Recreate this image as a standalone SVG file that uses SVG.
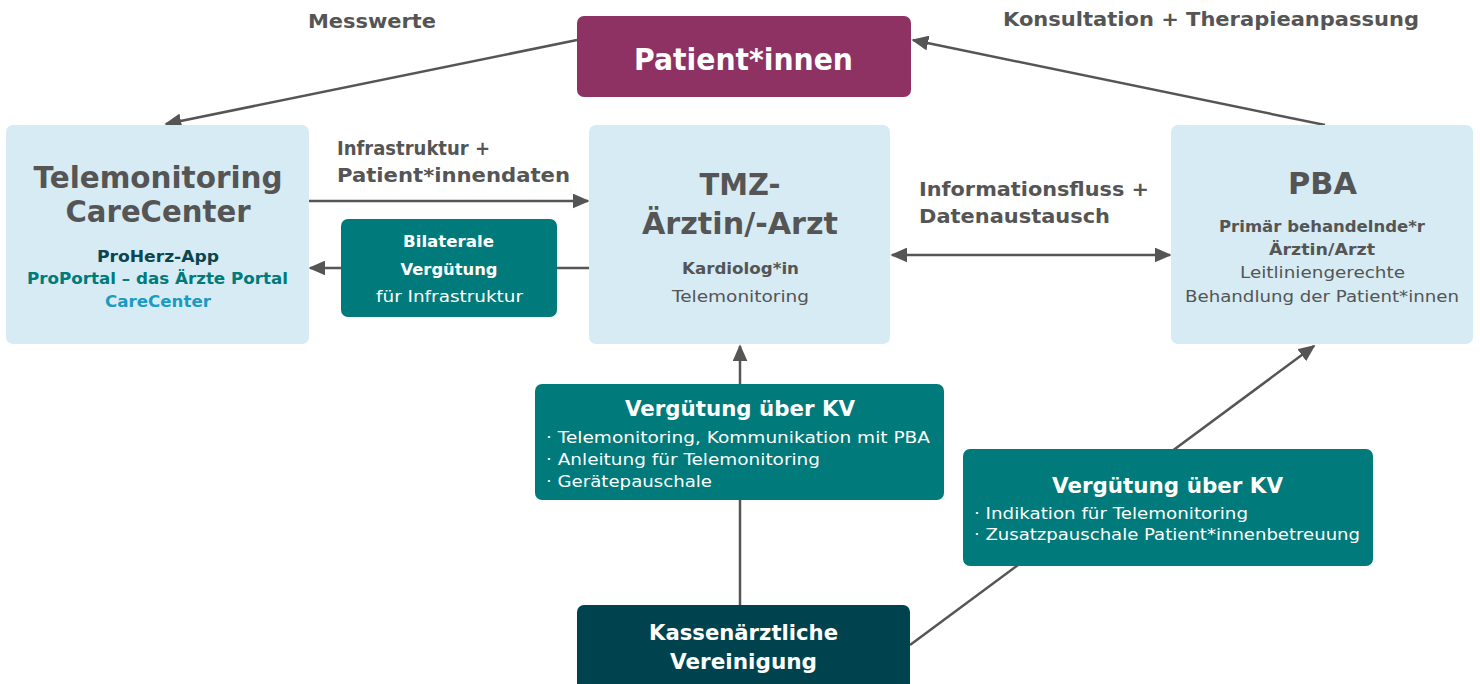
<svg xmlns="http://www.w3.org/2000/svg" width="1480" height="684" viewBox="0 0 1480 684">
<style>
text{font-family:"DejaVu Sans","Liberation Sans",Arial,sans-serif;text-anchor:middle}
.light{fill:#d6ebf3}
.teal{fill:#007a7a}
.big{font-size:30px;font-weight:bold;fill:#555}
.sb{font-size:16px;font-weight:bold;fill:#555}
.sr{font-size:16px;fill:#555}
.lbl{font-size:20px;font-weight:bold;fill:#555;text-anchor:start}
.wt{font-size:21px;font-weight:bold;fill:#fff}
.wb{font-size:16px;font-weight:bold;fill:#fff}
.wr{font-size:16px;fill:#fff}
.bl{font-size:16px;fill:#fff;text-anchor:start}
.c{stroke:#555;stroke-width:2.5;fill:none}
</style>
<defs>
<marker id="a" viewBox="0 0 10 10" refX="9" refY="5" markerWidth="17" markerHeight="15" markerUnits="userSpaceOnUse" orient="auto-start-reverse" preserveAspectRatio="none"><path d="M0,0 L10,5 L0,10 z" fill="#555"/></marker>
</defs>
<g id="connectors">
<line class="c" x1="577" y1="40" x2="166" y2="124" marker-end="url(#a)"/>
<line class="c" x1="1325" y1="125" x2="913" y2="40" marker-end="url(#a)"/>
<line class="c" x1="309" y1="201" x2="588" y2="201" marker-end="url(#a)"/>
<line class="c" x1="589" y1="268" x2="310" y2="268" marker-end="url(#a)"/>
<line class="c" x1="892" y1="255" x2="1170" y2="255" marker-start="url(#a)" marker-end="url(#a)"/>
<line class="c" x1="740" y1="384" x2="740" y2="346" marker-end="url(#a)"/>
<line class="c" x1="740" y1="605" x2="740" y2="500"/>
<line class="c" x1="910" y1="645" x2="1314" y2="346" marker-end="url(#a)"/>
</g>
<g id="labels">
<text class="lbl" x="308" y="28" textLength="128" lengthAdjust="spacingAndGlyphs">Messwerte</text>
<text class="lbl" x="1003" y="26" textLength="416" lengthAdjust="spacingAndGlyphs">Konsultation + Therapieanpassung</text>
<text class="lbl" x="337" y="155" textLength="153" lengthAdjust="spacingAndGlyphs">Infrastruktur +</text>
<text class="lbl" x="337" y="182" textLength="233" lengthAdjust="spacingAndGlyphs">Patient*innendaten</text>
<text class="lbl" x="919" y="196" textLength="230" lengthAdjust="spacingAndGlyphs">Informationsfluss +</text>
<text class="lbl" x="919" y="223" textLength="191" lengthAdjust="spacingAndGlyphs">Datenaustausch</text>
</g>
<g id="patient">
<rect x="577" y="16" width="334" height="81" rx="7" fill="#8e3163"/>
<text x="743.5" y="70" textLength="219" lengthAdjust="spacingAndGlyphs" style="font-size:30px;font-weight:bold;fill:#fff">Patient*innen</text>
</g>
<g id="carecenter">
<rect class="light" x="6" y="125" width="303" height="219" rx="7"/>
<text class="big" x="158" y="188" textLength="249" lengthAdjust="spacingAndGlyphs">Telemonitoring</text>
<text class="big" x="158" y="222" textLength="185" lengthAdjust="spacingAndGlyphs">CareCenter</text>
<text x="158" y="262" textLength="122" lengthAdjust="spacingAndGlyphs" style="font-size:16px;font-weight:bold;fill:#0b4650">ProHerz-App</text>
<text x="157.5" y="284" textLength="261" lengthAdjust="spacingAndGlyphs" style="font-size:16px;font-weight:bold;fill:#007a7a">ProPortal – das Ärzte Portal</text>
<text x="158" y="307" textLength="106" lengthAdjust="spacingAndGlyphs" style="font-size:16px;font-weight:bold;fill:#1a9bc0">CareCenter</text>
</g>
<g id="bilaterale">
<rect class="teal" x="341" y="219" width="216" height="98" rx="7"/>
<text class="wb" x="448.5" y="247" textLength="91" lengthAdjust="spacingAndGlyphs">Bilaterale</text>
<text class="wb" x="449" y="275" textLength="97" lengthAdjust="spacingAndGlyphs">Vergütung</text>
<text class="wr" x="449.5" y="302" textLength="147" lengthAdjust="spacingAndGlyphs">für Infrastruktur</text>
</g>
<g id="tmz">
<rect class="light" x="589" y="125" width="301" height="219" rx="7"/>
<text class="big" x="740" y="195" textLength="81" lengthAdjust="spacingAndGlyphs">TMZ-</text>
<text class="big" x="740" y="234" textLength="196" lengthAdjust="spacingAndGlyphs">Ärztin/-Arzt</text>
<text class="sb" x="740.5" y="274" textLength="117" lengthAdjust="spacingAndGlyphs">Kardiolog*in</text>
<text class="sr" x="740.5" y="302" textLength="137" lengthAdjust="spacingAndGlyphs">Telemonitoring</text>
</g>
<g id="pba">
<rect class="light" x="1171" y="125" width="302" height="219" rx="7"/>
<text class="big" x="1322.5" y="194" textLength="69" lengthAdjust="spacingAndGlyphs">PBA</text>
<text class="sb" x="1322" y="232" textLength="206" lengthAdjust="spacingAndGlyphs">Primär behandelnde*r</text>
<text class="sb" x="1322" y="255" textLength="106" lengthAdjust="spacingAndGlyphs">Ärztin/Arzt</text>
<text class="sr" x="1322.5" y="278" textLength="165" lengthAdjust="spacingAndGlyphs">Leitliniengerechte</text>
<text class="sr" x="1322" y="302" textLength="274" lengthAdjust="spacingAndGlyphs">Behandlung der Patient*innen</text>
</g>
<g id="kv1">
<rect class="teal" x="535" y="384" width="409" height="116" rx="7"/>
<text class="wt" x="740" y="416" textLength="230" lengthAdjust="spacingAndGlyphs">Vergütung über KV</text>
<text class="bl" x="546" y="443" textLength="384" lengthAdjust="spacingAndGlyphs">· Telemonitoring, Kommunikation mit PBA</text>
<text class="bl" x="546" y="465" textLength="274" lengthAdjust="spacingAndGlyphs">· Anleitung für Telemonitoring</text>
<text class="bl" x="546" y="487" textLength="166" lengthAdjust="spacingAndGlyphs">· Gerätepauschale</text>
</g>
<g id="kv2">
<rect class="teal" x="963" y="449" width="410" height="117" rx="7"/>
<text class="wt" x="1167.5" y="493" textLength="231" lengthAdjust="spacingAndGlyphs">Vergütung über KV</text>
<text class="bl" x="974" y="519" textLength="274" lengthAdjust="spacingAndGlyphs">· Indikation für Telemonitoring</text>
<text class="bl" x="974" y="540" textLength="386" lengthAdjust="spacingAndGlyphs">· Zusatzpauschale Patient*innenbetreuung</text>
</g>
<g id="kassen">
<rect x="577" y="605" width="333" height="90" rx="7" fill="#00434f"/>
<text class="wt" x="743.5" y="640" textLength="189" lengthAdjust="spacingAndGlyphs">Kassenärztliche</text>
<text class="wt" x="743.5" y="669" textLength="147" lengthAdjust="spacingAndGlyphs">Vereinigung</text>
</g>
</svg>
